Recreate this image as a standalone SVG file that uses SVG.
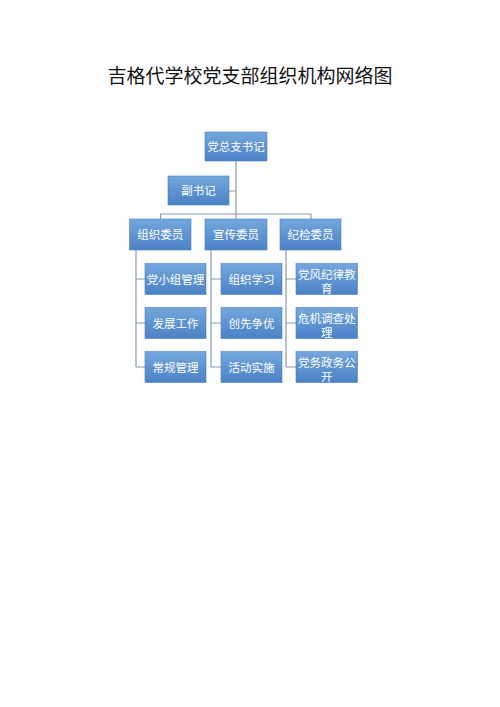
<svg xmlns="http://www.w3.org/2000/svg" width="500" height="707" viewBox="0 0 500 707">
<defs>
<linearGradient id="g" x1="0" y1="0" x2="0" y2="1">
<stop offset="0" stop-color="#74a7dc"/>
<stop offset="1" stop-color="#4b82c6"/>
</linearGradient>
</defs>
<style>
.b{fill:url(#g);stroke:#4a7fc0;stroke-width:0.6}
.t{font-family:"Noto Sans CJK SC",sans-serif;font-size:11.5px;fill:#ffffff;text-anchor:middle}
.c{fill:none;stroke:#8a9bb0;stroke-width:1.2}
.title{font-family:"Noto Sans CJK SC",sans-serif;font-size:19px;fill:#111;text-anchor:middle}
</style>
<rect width="500" height="707" fill="#fff"/>
<text class="title" x="250" y="83">吉格代学校党支部组织机构网络图</text>
<g id="connectors">
<path class="c" d="M236 161V214M229 191H236M160.5 219V214H311V219M236 214V219"/>
<path class="c" d="M136 250V367M136 279H145M136 323H145M136 367H145"/>
<path class="c" d="M211 250V367M211 279H221M211 323H221M211 367H221"/>
<path class="c" d="M286 250V367M286 279H296M286 323H296M286 367H296"/>
</g>
<g id="n-top"><rect class="b" x="205" y="132" width="62" height="29"/><text class="t" x="236" y="151">党总支书记</text></g>
<g id="n-deputy"><rect class="b" x="168" y="176" width="61" height="29"/><text class="t" x="198.5" y="195">副书记</text></g>
<g id="n-zz"><rect class="b" x="129.5" y="219" width="61.5" height="31"/><text class="t" x="160.25" y="239">组织委员</text></g>
<g id="n-xc"><rect class="b" x="205" y="219" width="62" height="31"/><text class="t" x="236" y="239">宣传委员</text></g>
<g id="n-jj"><rect class="b" x="280" y="219" width="61" height="31"/><text class="t" x="310.5" y="239">纪检委员</text></g>
<g id="n-a1"><rect class="b" x="145" y="263.5" width="61" height="31"/><text class="t" x="175.5" y="283.5">党小组管理</text></g>
<g id="n-a2"><rect class="b" x="145" y="307.5" width="61" height="31"/><text class="t" x="175.5" y="327.5">发展工作</text></g>
<g id="n-a3"><rect class="b" x="145" y="351.5" width="61" height="31"/><text class="t" x="175.5" y="371.5">常规管理</text></g>
<g id="n-b1"><rect class="b" x="221" y="263.5" width="61" height="31"/><text class="t" x="251.5" y="283.5">组织学习</text></g>
<g id="n-b2"><rect class="b" x="221" y="307.5" width="61" height="31"/><text class="t" x="251.5" y="327.5">创先争优</text></g>
<g id="n-b3"><rect class="b" x="221" y="351.5" width="61" height="31"/><text class="t" x="251.5" y="371.5">活动实施</text></g>
<g id="n-c1"><rect class="b" x="296" y="263.5" width="61.5" height="31"/><text class="t"><tspan x="326.75" y="279">党风纪律教</tspan><tspan x="326.75" y="293">育</tspan></text></g>
<g id="n-c2"><rect class="b" x="296" y="307.5" width="61.5" height="31"/><text class="t"><tspan x="326.75" y="323">危机调查处</tspan><tspan x="326.75" y="337">理</tspan></text></g>
<g id="n-c3"><rect class="b" x="296" y="351.5" width="61.5" height="31"/><text class="t"><tspan x="326.75" y="367">党务政务公</tspan><tspan x="326.75" y="381">开</tspan></text></g>
</svg>
